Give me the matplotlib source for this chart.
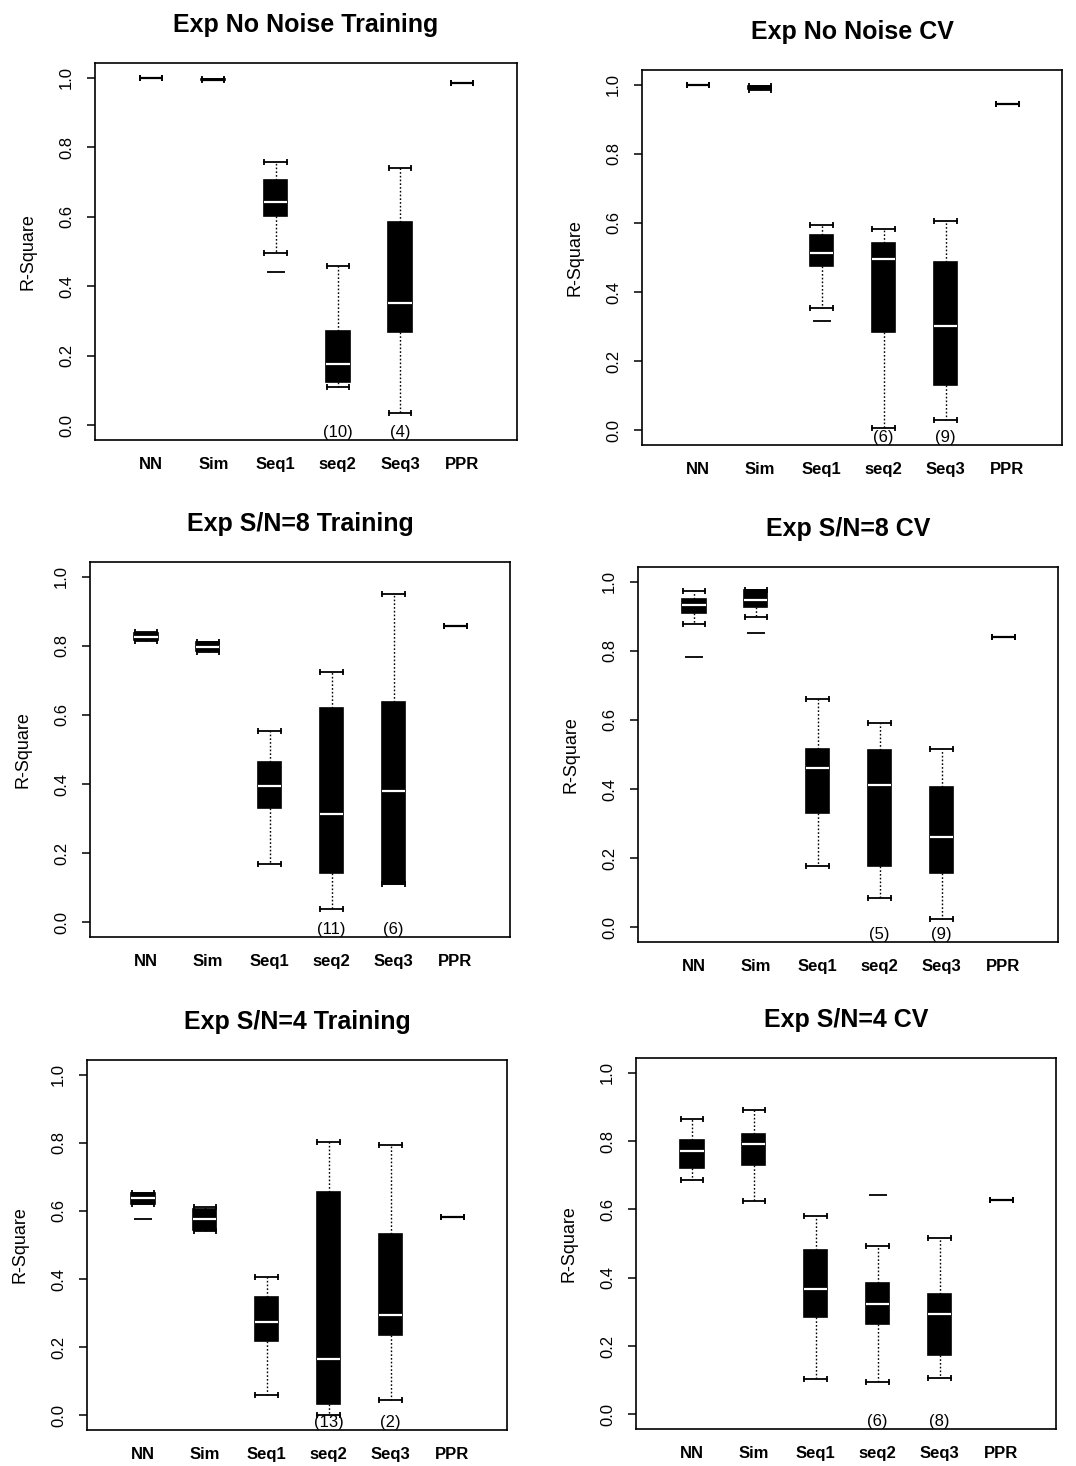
"""Boxplots of R-Square for six fitting methods, exponential test function."""

import matplotlib

matplotlib.use("Agg")
import matplotlib.pyplot as plt

plt.rcParams["font.family"] = ["Liberation Sans", "DejaVu Sans"]

methods = ["NN", "Sim", "Seq1", "seq2", "Seq3", "PPR"]

titles = [
    "Exp No Noise Training",
    "Exp No Noise CV",
    "Exp S/N=8 Training",
    "Exp S/N=8 CV",
    "Exp S/N=4 Training",
    "Exp S/N=4 CV",
]

# five-number summaries per method: [whisker low, q1, median, q3, whisker high]
nonoise_train = [
    [0.999, 1.000, 1.000, 1.000, 1.000],
    [0.993, 0.994, 0.995, 0.996, 0.997],
    [0.497, 0.601, 0.642, 0.705, 0.757],
    [0.111, 0.125, 0.175, 0.271, 0.457],
    [0.034, 0.267, 0.351, 0.584, 0.740],
    [0.986, 0.986, 0.986, 0.986, 0.986],
]
nonoise_cv = [
    [1.000, 1.000, 1.000, 1.000, 1.000],
    [0.986, 0.987, 0.992, 0.997, 0.998],
    [0.353, 0.476, 0.512, 0.566, 0.593],
    [0.005, 0.284, 0.497, 0.541, 0.582],
    [0.029, 0.130, 0.303, 0.488, 0.606],
    [0.945, 0.945, 0.945, 0.945, 0.945],
]
sn8_train = [
    [0.815, 0.817, 0.827, 0.836, 0.840],
    [0.783, 0.785, 0.798, 0.810, 0.812],
    [0.167, 0.330, 0.393, 0.465, 0.554],
    [0.039, 0.143, 0.313, 0.619, 0.723],
    [0.110, 0.110, 0.381, 0.639, 0.949],
    [0.858, 0.858, 0.858, 0.858, 0.858],
]
sn8_cv = [
    [0.878, 0.911, 0.933, 0.950, 0.974],
    [0.897, 0.926, 0.948, 0.976, 0.976],
    [0.176, 0.330, 0.461, 0.516, 0.662],
    [0.084, 0.176, 0.413, 0.513, 0.590],
    [0.024, 0.156, 0.262, 0.407, 0.516],
    [0.839, 0.839, 0.839, 0.839, 0.839],
]
sn4_train = [
    [0.621, 0.621, 0.638, 0.654, 0.654],
    [0.541, 0.545, 0.577, 0.607, 0.611],
    [0.061, 0.219, 0.275, 0.348, 0.405],
    [0.000, 0.034, 0.165, 0.657, 0.801],
    [0.044, 0.236, 0.295, 0.531, 0.794],
    [0.582, 0.582, 0.582, 0.582, 0.582],
]
sn4_cv = [
    [0.686, 0.721, 0.772, 0.803, 0.864],
    [0.624, 0.731, 0.791, 0.820, 0.891],
    [0.102, 0.284, 0.367, 0.481, 0.580],
    [0.095, 0.264, 0.322, 0.385, 0.492],
    [0.107, 0.175, 0.294, 0.352, 0.517],
    [0.626, 0.626, 0.626, 0.626, 0.626],
]

# outliers per method
nonoise_train_out = [[], [], [0.442], [], [], []]
nonoise_cv_out = [[], [], [0.315], [], [], []]
sn8_train_out = [[], [], [], [], [], []]
sn8_cv_out = [[0.783], [0.853], [], [], [], []]
sn4_train_out = [[0.576], [], [], [], [], []]
sn4_cv_out = [[], [], [], [0.641], [], []]

# number of runs falling below the plotted range
nonoise_train_below = [0, 0, 0, 10, 4, 0]
nonoise_cv_below = [0, 0, 0, 6, 9, 0]
sn8_train_below = [0, 0, 0, 11, 6, 0]
sn8_cv_below = [0, 0, 0, 5, 9, 0]
sn4_train_below = [0, 0, 0, 13, 2, 0]
sn4_cv_below = [0, 0, 0, 6, 8, 0]

panels = [
    (nonoise_train, nonoise_train_out, nonoise_train_below),
    (nonoise_cv, nonoise_cv_out, nonoise_cv_below),
    (sn8_train, sn8_train_out, sn8_train_below),
    (sn8_cv, sn8_cv_out, sn8_cv_below),
    (sn4_train, sn4_train_out, sn4_train_below),
    (sn4_cv, sn4_cv_out, sn4_cv_below),
]

W, H = 1076, 1466
# axes boxes in pixels: left, right, top, bottom
boxes_px = [
    (95, 517, 63, 440),
    (642, 1062, 70, 445),
    (90, 510, 562, 937),
    (638, 1058, 567, 942),
    (87, 507, 1060, 1430),
    (636, 1056, 1058, 1429),
]


def main() -> None:
    fig = plt.figure(figsize=(W / 100, H / 100), dpi=100)
    positions = list(range(1, len(methods) + 1))

    for (stats5, outs, below), (l, r, t, b), title in zip(panels, boxes_px, titles):
        ax = fig.add_axes([l / W, 1 - b / H, (r - l) / W, (b - t) / H])
        stats = []
        for s, fl in zip(stats5, outs):
            stats.append(dict(whislo=s[0], q1=s[1], med=s[2], q3=s[3], whishi=s[4], fliers=fl))
        art = ax.bxp(
            stats,
            positions=positions,
            widths=0.38,
            capwidths=0.36,
            patch_artist=True,
            boxprops=dict(facecolor="black", edgecolor="black", linewidth=1.2),
            medianprops=dict(color="white", linewidth=1.6),
            whiskerprops=dict(color="black", linestyle=(0, (1.2, 1.5)), linewidth=1.0),
            capprops=dict(color="black", linewidth=1.3, marker="|", markersize=5, markeredgewidth=1.3),
            flierprops=dict(marker="_", markersize=13, markeredgewidth=1.3, markeredgecolor="black"),
        )
        # very flat boxes read as solid black bars in the original
        for s, med in zip(stats5, art["medians"]):
            if s[3] - s[1] < 0.012:
                med.set_color("black")

        for x, n in zip(positions, below):
            if n:
                ax.text(x, -0.022, f"({n})", ha="center", va="center", fontsize=12)

        ax.set_xlim(0.1, 6.88)
        ax.set_ylim(-0.043, 1.043)
        ax.set_xticks(positions)
        ax.set_xticklabels(methods, fontsize=12, fontweight="bold")
        ax.tick_params(axis="x", length=0, pad=12)
        yt = [0.0, 0.2, 0.4, 0.6, 0.8, 1.0]
        ax.set_yticks(yt)
        ax.set_yticklabels([f"{v:.1f}" for v in yt], rotation=90, va="center", fontsize=12)
        ax.tick_params(axis="y", length=6, width=1.1, pad=9)
        ax.set_ylabel("R-Square", fontsize=13, labelpad=16)
        ax.set_title(title, fontsize=18, fontweight="bold", pad=22)
        for sp in ax.spines.values():
            sp.set_linewidth(1.2)

    fig.savefig("out.png", dpi=100)
    plt.close(fig)


if __name__ == "__main__":
    main()
